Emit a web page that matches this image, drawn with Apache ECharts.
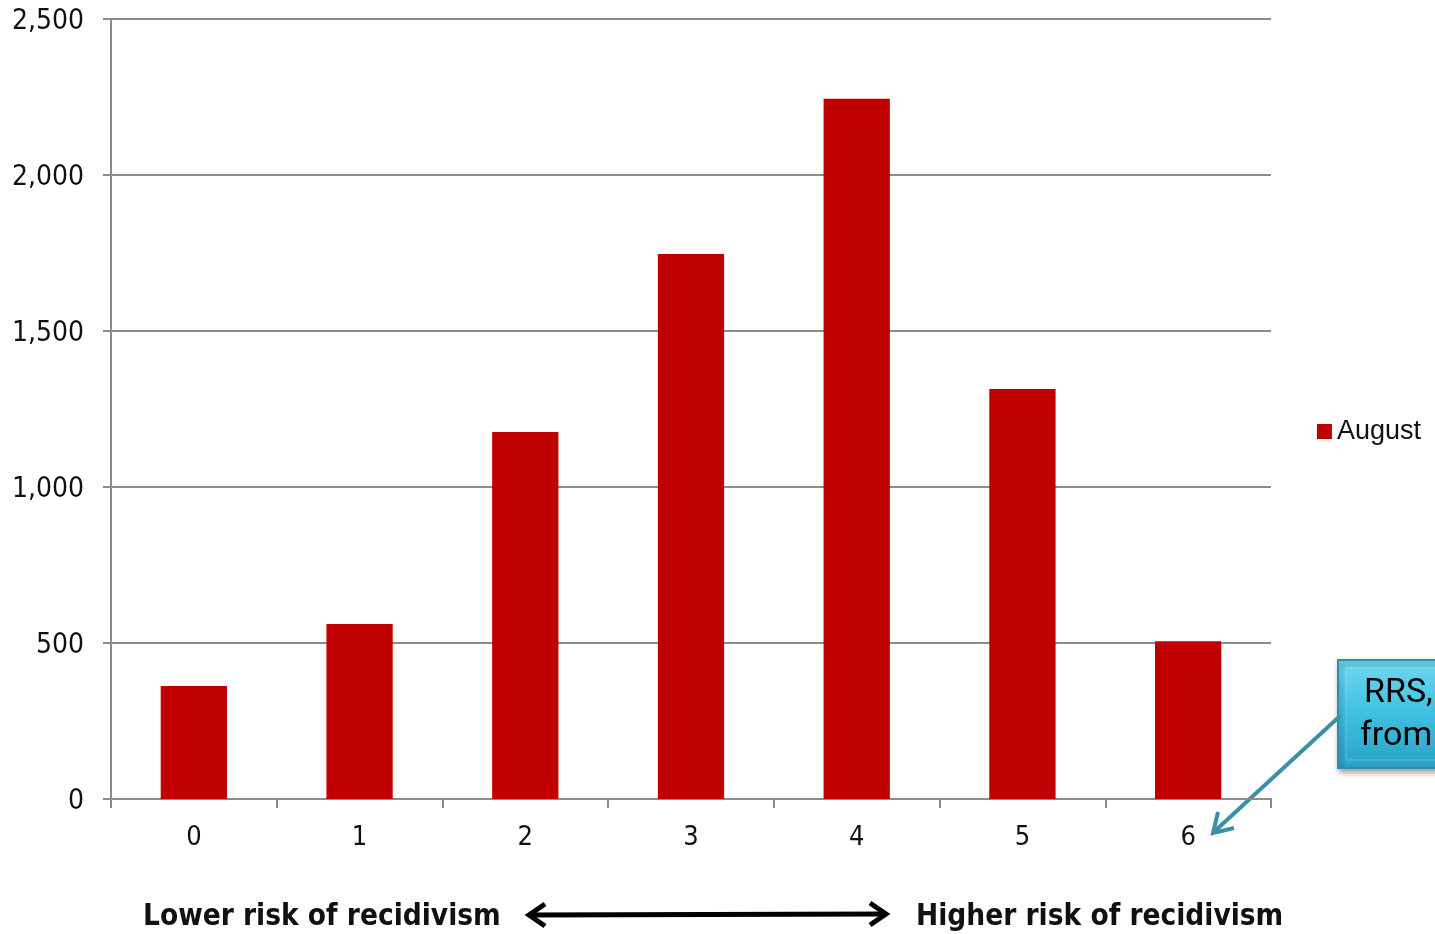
<!DOCTYPE html>
<html>
<head>
<meta charset="utf-8">
<script src="https://cdn.jsdelivr.net/npm/echarts@6/dist/echarts.min.js"></script>
<style>
html,body{margin:0;padding:0;background:#fff;}
#c{width:1435px;height:934px;}
</style>
</head>
<body>
<div id="c"></div>
<script>
var categories = ['0', '1', '2', '3', '4', '5', '6'];
var augustValues = [362, 561, 1176, 1747, 2244, 1314, 506];
var seriesName = 'August';
var yTicks = [0, 500, 1000, 1500, 2000, 2500];

var axisFont = "'DejaVu Sans Condensed', 'DejaVu Sans'";
var chart = echarts.init(document.getElementById('c'));
chart.setOption({
  animation: false,
  grid: {left: 111, right: 164, top: 19, bottom: 135},
  legend: {
    data: [seriesName],
    right: 9, top: 413,
    icon: 'rect', itemWidth: 15, itemHeight: 15, itemGap: 7,
    textStyle: {fontFamily: 'Liberation Sans', fontSize: 27, color: '#111'}
  },
  xAxis: {
    type: 'category', data: categories,
    axisLine: {lineStyle: {color: '#8c8c8c', width: 2}},
    axisTick: {show: true, length: 9, lineStyle: {color: '#8c8c8c', width: 2}, alignWithLabel: false},
    axisLabel: {fontFamily: axisFont, fontSize: 27, color: '#111', margin: 25}
  },
  yAxis: {
    type: 'value', min: 0, max: 2500, interval: 500,
    axisLine: {show: true, lineStyle: {color: '#8c8c8c', width: 2}},
    axisTick: {show: true, length: 8, lineStyle: {color: '#8c8c8c', width: 2}},
    splitLine: {lineStyle: {color: '#8c8c8c', width: 2}},
    axisLabel: {
      fontFamily: axisFont, fontSize: 28, color: '#111', margin: 27,
      formatter: function (v) { return '{v|' + v.toLocaleString('en-US') + '}'; },
      rich: {v: {fontFamily: axisFont, fontSize: 28, color: '#111', padding: [5, 0, 0, 0]}}
    }
  },
  series: [{
    name: seriesName, type: 'bar', data: augustValues,
    barWidth: '40%',
    itemStyle: {color: '#c00000'}
  }],
  graphic: [
    {type: 'text', left: 143, top: 902, style: {text: 'Lower risk of recidivism', fontFamily: axisFont, fontWeight: 'bold', fontSize: 29.5, fill: '#111'}},
    {type: 'text', left: 916, top: 902, style: {text: 'Higher risk of recidivism', fontFamily: axisFont, fontWeight: 'bold', fontSize: 29.5, fill: '#111'}},
    {type: 'line', shape: {x1: 530, y1: 915, x2: 885, y2: 914}, style: {stroke: '#000', lineWidth: 5}},
    {type: 'polyline', shape: {points: [[545, 904], [529, 915], [545, 926]]}, style: {stroke: '#000', lineWidth: 5, fill: null}},
    {type: 'polyline', shape: {points: [[870, 903], [886, 914], [870, 925]]}, style: {stroke: '#000', lineWidth: 5, fill: null}},
    {type: 'rect', shape: {x: 1338, y: 660, width: 140, height: 108},
      style: {
        fill: new echarts.graphic.LinearGradient(0, 0, 0, 1, [
          {offset: 0, color: '#72d8f0'}, {offset: 0.5, color: '#3ec0e0'}, {offset: 1, color: '#2aa2c5'}
        ]),
        stroke: '#2b8fae', lineWidth: 2,
        shadowBlur: 6, shadowOffsetX: 2, shadowOffsetY: 3, shadowColor: 'rgba(0,0,0,0.4)'
      }},
    {type: 'rect', shape: {x: 1346, y: 668, width: 140, height: 92},
      style: {fill: null, stroke: 'rgba(255,255,255,0.25)', lineWidth: 1}},
    {type: 'text', left: 1364, top: 676, style: {text: 'RRS,', fontFamily: 'Roboto', fontSize: 34, fill: '#000'}},
    {type: 'text', left: 1360, top: 719, style: {text: 'from', fontFamily: 'Roboto', fontSize: 34, fill: '#000'}},
    {type: 'line', shape: {x1: 1340, y1: 716, x2: 1216, y2: 830}, style: {stroke: '#3b8fa6', lineWidth: 4}},
    {type: 'polyline', shape: {points: [[1218, 812], [1213, 833], [1234, 828]]}, style: {stroke: '#3b8fa6', lineWidth: 4, fill: null}}
  ]
});
</script>
</body>
</html>
